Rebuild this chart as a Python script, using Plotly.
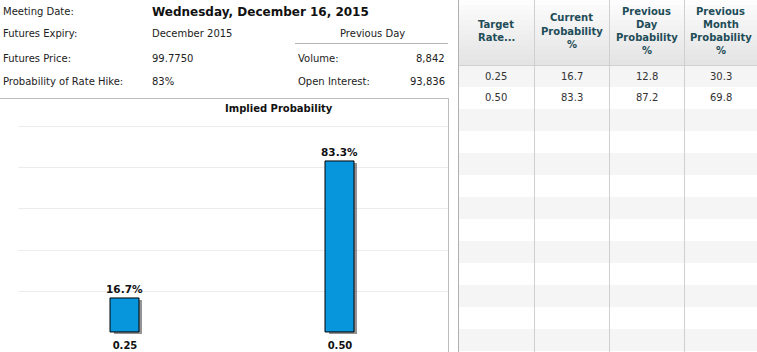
import plotly.graph_objects as go

W, H = 757, 352

# ---------------- data ----------------
categories = ["0.25", "0.50"]
implied_prob = [16.7, 83.3]

table_headers = ["Target<br>Rate...", "Current<br>Probability<br>%",
                 "Previous<br>Day<br>Probability<br>%", "Previous<br>Month<br>Probability<br>%"]
target_rates = ["0.25", "0.50"]
current_prob = ["16.7", "83.3"]
prev_day_prob = ["12.8", "87.2"]
prev_month_prob = ["30.3", "69.8"]

info_labels = ["Meeting Date:", "Futures Expiry:", "Futures Price:", "Probability of Rate Hike:"]
info_values = ["Wednesday, December 16, 2015", "December 2015", "99.7750", "83%"]
prev_day_labels = ["Volume:", "Open Interest:"]
prev_day_values = ["8,842", "93,836"]

# ---------------- helpers ----------------
def px(x):
    return x / W

def py(y):
    return 1 - y / H

FONT = "DejaVu Sans, Verdana, sans-serif"
shapes = []
annotations = []

def text(x, y, s, size=10, color="#222", bold=False, anchor="left"):
    annotations.append(dict(
        x=px(x), y=py(y), xref="paper", yref="paper", text=(f"<b>{s}</b>" if bold else s),
        showarrow=False, xanchor=anchor, yanchor="middle",
        font=dict(family=FONT, size=size, color=color)))

def rect(x0, y0, x1, y1, fill, line=None):
    shapes.append(dict(type="rect", xref="paper", yref="paper", layer="below",
                       x0=px(x0), x1=px(x1), y0=py(y1), y1=py(y0),
                       fillcolor=fill, line=dict(width=0) if line is None else line))

def hline(x0, x1, y, color):
    shapes.append(dict(type="line", xref="paper", yref="paper",
                       x0=px(x0), x1=px(x1), y0=py(y), y1=py(y),
                       line=dict(color=color, width=1)))

def vline(x, y0, y1, color):
    shapes.append(dict(type="line", xref="paper", yref="paper",
                       x0=px(x), x1=px(x), y0=py(y0), y1=py(y1),
                       line=dict(color=color, width=1)))

# ---------------- info panel ----------------
info_rows_y = [12, 34, 58, 81]
for i, (lab, val) in enumerate(zip(info_labels, info_values)):
    text(1, info_rows_y[i], lab)
    if i == 0:
        text(150, info_rows_y[i], val, size=12, color="#111", bold=True)
    else:
        text(150, info_rows_y[i], val)
text(372, 34, "Previous Day", anchor="center")
hline(295, 448, 43.5, "#b5b5b5")
for i, (lab, val) in enumerate(zip(prev_day_labels, prev_day_values)):
    text(296, info_rows_y[i + 2], lab)
    text(447, info_rows_y[i + 2], val, anchor="right")

# chart box border
hline(0, 449, 98.5, "#bdbdbd")
vline(448.5, 98, 352, "#bdbdbd")
text(223, 108, "Implied Probability", bold=True, color="#111")

# ---------------- table ----------------
tx0 = 458
col_edges = [458, 534, 609, 684, 757]
header_h = 65
row_h = 22
# header gradient
nb = 13
for k in range(nb):
    g = int(253 - (253 - 228) * k / (nb - 1))
    rect(tx0, header_h * k / nb, W, header_h * (k + 1) / nb, f"rgb({g},{g},{g})")
# row stripes
r = 0
y = header_h
while y < H:
    rect(tx0, y, W, y + row_h, "#f5f5f5" if r % 2 == 0 else "#ffffff")
    y += row_h
    r += 1
hline(tx0, W, header_h + 0.5, "#d0d0d0")
vline(tx0 + 0.5, 0, H, "#b0b0b0")
for cx in col_edges[1:-1]:
    vline(cx + 0.5, 0, H, "#cfcfcf")

centers = [(col_edges[i] + col_edges[i + 1]) / 2 for i in range(4)]
line_gap = 13.3
for i, hdr in enumerate(table_headers):
    lines = hdr.split("<br>")
    n = len(lines)
    mid = 31
    for j, ln in enumerate(lines):
        yy = mid + (j - (n - 1) / 2) * line_gap
        text(centers[i], yy, ln, bold=True, color="#1e4c58", anchor="center")

cols = [target_rates, current_prob, prev_day_prob, prev_month_prob]
for ci, col in enumerate(cols):
    for ri, v in enumerate(col):
        text(centers[ci], header_h + row_h * ri + 11, v, color="#333", anchor="center")

# ---------------- bar chart ----------------
scale = (332.3 - 126.7) / 100.0  # px per unit
ymin = -1.6
ymax = 100.6
dom_bottom = 332.3 + (-ymin) * scale
dom_top = 332.3 - ymax * scale
bw = 0.133
sh_dx = 2.5 / 215.0
sh_dy = 2.5 / scale

fig = go.Figure()
fig.add_trace(go.Bar(
    x=categories, y=implied_prob, base=-sh_dy, width=bw, offset=-bw / 2 + sh_dx,
    marker=dict(color="rgba(60,60,60,0.55)", line=dict(width=0)),
    hoverinfo="skip", showlegend=False))
fig.add_trace(go.Bar(
    x=categories, y=implied_prob, width=bw, offset=-bw / 2,
    marker=dict(color="#0795dc", line=dict(color="#000000", width=1)),
    texttemplate="<b>%{y:.1f}%</b>", textposition="outside", cliponaxis=False,
    constraintext="none",
    textfont=dict(family=FONT, size=10.5, color="#111"), showlegend=False))

fig.update_layout(
    width=W, height=H, margin=dict(l=0, r=0, t=0, b=0),
    paper_bgcolor="white", plot_bgcolor="rgba(0,0,0,0)",
    barmode="overlay", bargap=0,
    shapes=shapes, annotations=annotations,
    font=dict(family=FONT, size=10, color="#111"),
    xaxis=dict(domain=[px(17.5), px(447.5)], range=[-0.5, 1.5], type="category",
               showgrid=False, zeroline=False, showline=False, ticks="",
               ticklabelstandoff=2,
               tickfont=dict(family=FONT, size=10, color="#111"),
               tickvals=categories, ticktext=[f"<b>{c}</b>" for c in categories]),
    yaxis=dict(domain=[py(dom_bottom), py(dom_top)], range=[ymin, ymax],
               tickvals=[20, 40, 60, 80, 100], showticklabels=False,
               showgrid=True, gridcolor="#ececec", gridwidth=1,
               zeroline=False, showline=False, ticks=""),
)

fig.write_html("out.html")
